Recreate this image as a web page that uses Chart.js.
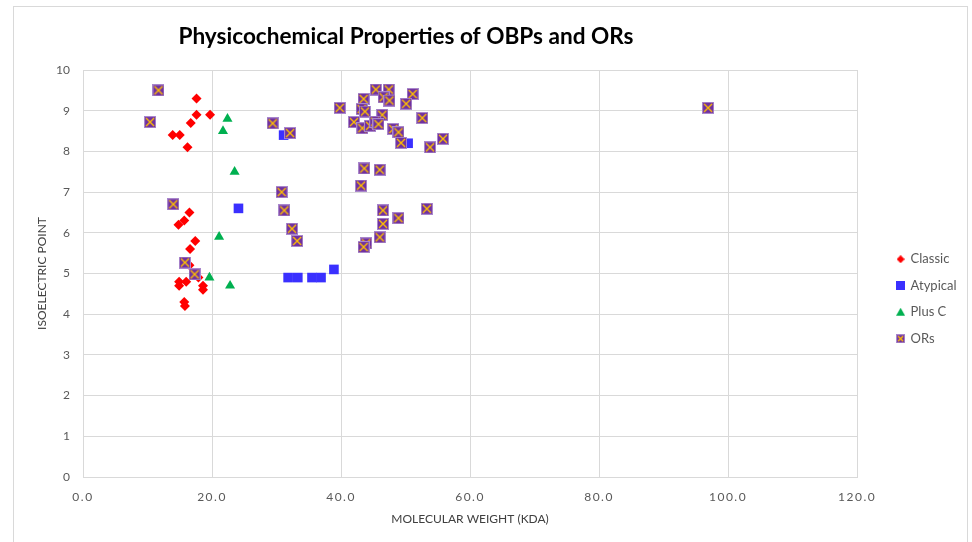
<!DOCTYPE html>
<html>
<head>
<meta charset="utf-8">
<script src="https://cdn.jsdelivr.net/npm/chart.js@4.4.1/dist/chart.umd.min.js"></script>
<style>
  html, body { margin: 0; padding: 0; background: #fff; }
  #wrap { position: relative; width: 972px; height: 542px; overflow: hidden; }
  #moldura { position: absolute; left: 13px; top: 6px; width: 953px; height: 600px; border: 1px solid #d9d9d9; }
  canvas { position: absolute; left: 0; top: 0; }
</style>
</head>
<body>
<div id="wrap">
  <div id="moldura"></div>
  <canvas id="grafico" width="972" height="542"></canvas>
</div>
<script>
const titulo = "Physicochemical Properties of OBPs and ORs";
const tituloX = "MOLECULAR WEIGHT (KDA)";
const tituloY = "ISOELECTRIC POINT";
const series = ["Classic", "Atypical", "Plus C", "ORs"];

// Classic
const classicX = [17.6, 17.6, 19.7, 16.7, 13.9, 15.0, 16.2, 16.5, 15.7, 14.8, 17.4, 16.6, 16.5, 17.9, 14.9, 14.9, 16.0, 18.6, 18.6, 15.7, 15.8];
const classicY = [9.3, 8.9, 8.9, 8.7, 8.4, 8.4, 8.1, 6.5, 6.3, 6.2, 5.8, 5.6, 5.2, 4.9, 4.8, 4.7, 4.8, 4.7, 4.6, 4.3, 4.2];

// Atypical
const atypicalX = [24.1, 31.1, 31.8, 33.3, 35.5, 36.9, 38.9, 50.4];
const atypicalY = [6.6, 8.4, 4.9, 4.9, 4.9, 4.9, 5.1, 8.2];

// Plus C
const plusCX = [22.4, 21.7, 23.5, 21.1, 19.6, 22.8];
const plusCY = [8.8, 8.5, 7.5, 5.9, 4.9, 4.7];

// ORs
const orsX = [11.7, 10.4, 14.0, 15.8, 17.3, 29.4, 32.1, 30.8, 31.2, 32.4, 33.2, 39.8,
  45.4, 47.4, 46.6, 47.5, 43.5, 51.1, 50.1, 43.2, 43.7, 46.4, 42.0, 43.3, 44.5, 45.3, 45.8,
  52.6, 48.1, 48.9, 49.3, 53.8, 55.8, 43.6, 46.0, 43.1, 46.5, 48.9, 53.3, 46.5, 46.0, 43.9, 43.5, 96.9];
const orsY = [9.5, 8.72, 6.7, 5.27, 4.98, 8.69, 8.45, 7.0, 6.55, 6.1, 5.8, 9.07,
  9.52, 9.52, 9.33, 9.25, 9.29, 9.41, 9.17, 9.04, 8.98, 8.9, 8.72, 8.57, 8.63, 8.73, 8.67,
  8.82, 8.55, 8.47, 8.21, 8.1, 8.31, 7.58, 7.55, 7.16, 6.55, 6.36, 6.59, 6.22, 5.89, 5.74, 5.65, 9.07];

const eixoX = { min: 0, max: 120, passo: 20 };
const eixoY = { min: 0, max: 10, passo: 1 };

const corClassic = "#ff0000";
const corAtypical = "#3a30ff";
const corPlusC = "#00b050";
const corOR = "#7030a0";
const corX = "#ffc000";
const corTexto = "#595959";
const corGrade = "#d9d9d9";

function pares(xs, ys) {
  return xs.map((x, i) => ({ x: x, y: ys[i] }));
}

function icone(tipo, t) {
  const c = document.createElement("canvas");
  c.width = t;
  c.height = t;
  const g = c.getContext("2d");
  const m = t / 2;
  g.beginPath();
  if (tipo === "losango") {
    g.fillStyle = corClassic;
    g.moveTo(m, 0); g.lineTo(t, m); g.lineTo(m, t); g.lineTo(0, m);
    g.closePath(); g.fill();
  } else if (tipo === "quadrado") {
    g.fillStyle = corAtypical;
    g.fillRect(0, 0, t, t);
  } else if (tipo === "triangulo") {
    g.fillStyle = corPlusC;
    g.moveTo(m, 0); g.lineTo(t, t - 1); g.lineTo(0, t - 1);
    g.closePath(); g.fill();
  } else {
    g.fillStyle = "#a986cc";
    g.fillRect(0, 0, t, t);
    g.fillStyle = corOR;
    g.fillRect(1, 1, t - 2, t - 2);
    g.strokeStyle = corX;
    g.lineWidth = 1.4;
    g.moveTo(2, 2); g.lineTo(t - 2, t - 2);
    g.moveTo(t - 2, 2); g.lineTo(2, t - 2);
    g.stroke();
  }
  return c;
}

const iconeOR = icone("or", 12);
const iconesLegenda = {
  "Classic": icone("losango", 8),
  "Atypical": icone("quadrado", 9),
  "Plus C": icone("triangulo", 9),
  "ORs": icone("or", 9)
};

// titulo desenhado sobre o grafico
const cabecalho = {
  id: "cabecalho",
  afterDraw(chart) {
    const c = chart.ctx;
    c.save();
    c.font = "bold 22.6px Lato";
    c.fillStyle = "#000";
    c.textAlign = "center";
    c.textBaseline = "middle";
    c.fillText(titulo, 406, 37);
    c.restore();
  }
};

// rotulos do eixo x espacados como no original
const espacamento = {
  id: "espacamento",
  afterLayout(chart) {
    const sc = chart.scales.x;
    if (sc._espacado) return;
    const original = sc.drawLabels;
    sc.drawLabels = function (area) {
      this.ctx.save();
      this.ctx.letterSpacing = "1.5px";
      original.call(this, area);
      this.ctx.restore();
    };
    sc._espacado = true;
  }
};

const fonte = { family: "Lato", size: 12 };

new Chart(document.getElementById("grafico"), {
  type: "scatter",
  data: {
    datasets: [
      {
        label: series[0],
        data: pares(classicX, classicY),
        backgroundColor: corClassic,
        pointStyle: "rectRot",
        pointRadius: 5,
        pointBorderWidth: 0,
        order: 3
      },
      {
        label: series[1],
        data: pares(atypicalX, atypicalY),
        backgroundColor: corAtypical,
        pointStyle: "rect",
        pointRadius: 6.8,
        pointBorderWidth: 0,
        order: 2
      },
      {
        label: series[2],
        data: pares(plusCX, plusCY),
        backgroundColor: corPlusC,
        pointStyle: "triangle",
        pointRadius: 5.8,
        pointBorderWidth: 0,
        order: 1
      },
      {
        label: series[3],
        data: pares(orsX, orsY),
        backgroundColor: corOR,
        pointStyle: iconeOR,
        pointRadius: 6,
        pointBorderWidth: 0,
        order: 0
      }
    ]
  },
  options: {
    responsive: false,
    animation: false,
    events: [],
    layout: { padding: { left: 25, top: 70, right: 5.5, bottom: 14 } },
    plugins: {
      tooltip: { enabled: false },
      legend: {
        position: "right",
        labels: {
          usePointStyle: true,
          boxWidth: 7,
          boxHeight: 7,
          padding: 13.5,
          color: corTexto,
          font: { family: "Lato", size: 13 },
          sort: (a, b) => a.datasetIndex - b.datasetIndex,
          generateLabels(chart) {
            const itens = Chart.defaults.plugins.legend.labels.generateLabels(chart);
            itens.forEach((it) => { it.pointStyle = iconesLegenda[it.text]; });
            return itens;
          }
        }
      }
    },
    scales: {
      x: {
        type: "linear",
        min: eixoX.min,
        max: eixoX.max,
        afterFit(s) { s.height = 51; },
        ticks: {
          stepSize: eixoX.passo,
          padding: 13,
          color: corTexto,
          font: fonte,
          maxRotation: 0,
          callback: (v) => v.toFixed(1)
        },
        grid: { color: corGrade, drawTicks: false },
        border: { color: corGrade },
        title: { display: true, text: tituloX, color: "#404040", font: fonte, padding: { top: 0, bottom: 1.8 } }
      },
      y: {
        type: "linear",
        min: eixoY.min,
        max: eixoY.max,
        afterFit(s) { s.width = 58; },
        ticks: { stepSize: eixoY.passo, padding: 13, color: corTexto, font: fonte },
        grid: { color: corGrade, drawTicks: false },
        border: { color: corGrade },
        title: { display: true, text: tituloY, color: "#404040", font: fonte, padding: { top: 10, bottom: 0 } }
      },
      folga: {
        type: "linear",
        position: "right",
        afterFit(s) { s.width = 26.5; },
        ticks: { display: false },
        grid: { display: false },
        border: { display: false }
      }
    }
  },
  plugins: [cabecalho, espacamento]
});
</script>
</body>
</html>
